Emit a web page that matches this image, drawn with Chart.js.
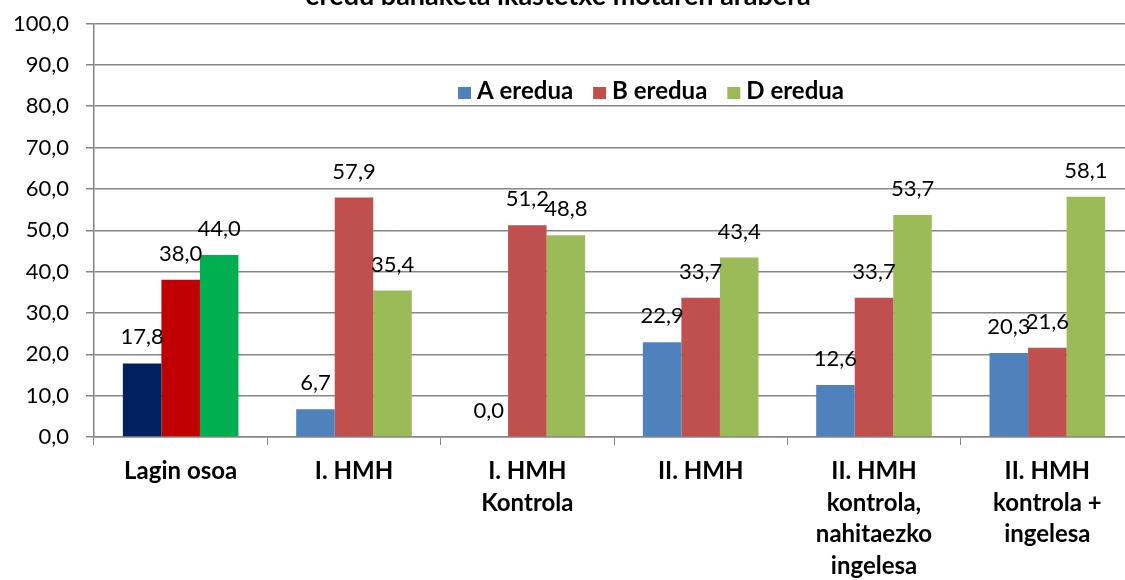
<!DOCTYPE html>
<html>
<head>
<meta charset="utf-8">
<script src="https://cdn.jsdelivr.net/npm/chart.js@4.4.0/dist/chart.umd.min.js"></script>
<style>
  html, body { margin: 0; padding: 0; background: #fff; overflow: hidden; }
  #wrap { position: relative; width: 1140px; height: 580px; }
</style>
</head>
<body>
<div id="wrap"><canvas id="c" width="1140" height="580"></canvas></div>
<script>
const categories = [
  ["Lagin osoa"],
  ["I. HMH"],
  ["I. HMH", "Kontrola"],
  ["II. HMH"],
  ["II. HMH", "kontrola,", "nahitaezko", "ingelesa"],
  ["II. HMH", "kontrola +", "ingelesa"]
];
const seriesNames = ["A eredua", "B eredua", "D eredua"];
const aValues = [17.8, 6.7, 0.0, 22.9, 12.6, 20.3];
const bValues = [38.0, 57.9, 51.2, 33.7, 33.7, 21.6];
const dValues = [44.0, 35.4, 48.8, 43.4, 53.7, 58.1];
const yTicks = [0, 10, 20, 30, 40, 50, 60, 70, 80, 90, 100];
const titleText = "eredu banaketa ikastetxe motaren arabera";

const seriesColors = ["#4F81BD", "#C0504D", "#9BBB59"];
const firstGroupColors = ["#002060", "#C00000", "#00B050"];

function fmt(v) { return v.toFixed(1).replace(".", ","); }

function colorsFor(i) {
  return categories.map((_, k) => k === 0 ? firstGroupColors[i] : seriesColors[i]);
}

const FONT = "Lato, 'Open Sans', sans-serif";

const dataLabels = {
  id: 'dataLabels',
  afterDatasetsDraw(chart) {
    const ctx = chart.ctx;
    ctx.save();
    ctx.font = "22px " + FONT;
    ctx.fillStyle = "#000";
    ctx.textAlign = "center";
    ctx.textBaseline = "alphabetic";
    chart.data.datasets.forEach((ds, di) => {
      const meta = chart.getDatasetMeta(di);
      meta.data.forEach((bar, i) => {
        ctx.fillText(fmt(ds.data[i]), bar.x, bar.y - 19);
      });
    });
    ctx.restore();
  }
};

const customLegend = {
  id: 'customLegend',
  afterDraw(chart) {
    const ctx = chart.ctx;
    ctx.save();
    ctx.font = "bold 24px " + FONT;
    ctx.textBaseline = "alphabetic";
    ctx.textAlign = "left";
    const box = 13, gapBox = 6, gapItem = 20;
    const names = chart.data.datasets.map(d => d.label);
    let total = 0;
    names.forEach((n, i) => {
      total += box + gapBox + ctx.measureText(n).width + (i < names.length - 1 ? gapItem : 0);
    });
    let x = 651 - total / 2;
    const base = 99;
    names.forEach((n, i) => {
      ctx.fillStyle = seriesColors[i];
      ctx.fillRect(x, base - 12, box, 12);
      x += box + gapBox;
      ctx.fillStyle = "#000";
      ctx.fillText(n, x, base);
      x += ctx.measureText(n).width + gapItem;
    });
    ctx.restore();
  }
};

const cutTitle = {
  id: 'cutTitle',
  afterDraw(chart) {
    const ctx = chart.ctx;
    ctx.save();
    ctx.font = "bold 27px " + FONT;
    ctx.fillStyle = "#000";
    ctx.textAlign = "center";
    ctx.textBaseline = "alphabetic";
    ctx.fillText(titleText, 558, 4.5);
    ctx.restore();
  }
};

new Chart(document.getElementById('c'), {
  type: 'bar',
  data: {
    labels: categories,
    datasets: [
      { label: seriesNames[0], data: aValues, backgroundColor: colorsFor(0) },
      { label: seriesNames[1], data: bValues, backgroundColor: colorsFor(1) },
      { label: seriesNames[2], data: dValues, backgroundColor: colorsFor(2) }
    ]
  },
  options: {
    responsive: false,
    animation: false,
    layout: { padding: { top: 23.5, right: 6, left: 0, bottom: 0 } },
    datasets: { bar: { barPercentage: 1.0, categoryPercentage: 0.667, borderWidth: 0 } },
    plugins: {
      legend: { display: false },
      tooltip: { enabled: false },
      title: { display: false }
    },
    scales: {
      x: {
        grid: { display: true, drawOnChartArea: false, color: "#868686", tickLength: 8, offset: true },
        border: { color: "#868686", width: 1.5 },
        ticks: {
          color: "#000",
          font: { family: FONT, size: 24, weight: "bold", lineHeight: "31.5px" },
          padding: 11,
          maxRotation: 0, autoSkip: false
        },
        afterFit(scale) { scale.height = 143; scale.paddingLeft = 0; scale.paddingRight = 0; }
      },
      y: {
        min: 0, max: 100,
        afterBuildTicks(scale) { scale.ticks = yTicks.map(v => ({ value: v })); },
        grid: { color: "#868686", lineWidth: 1.5, tickLength: 8 },
        border: { color: "#868686", width: 1.5 },
        ticks: {
          color: "#000",
          font: { family: FONT, size: 22 },
          padding: 17,
          callback: v => fmt(v)
        },
        afterFit(scale) { scale.width = 94; scale.paddingTop = 0; scale.paddingBottom = 0; }
      }
    }
  },
  plugins: [dataLabels, customLegend, cutTitle]
});
</script>
</body>
</html>
